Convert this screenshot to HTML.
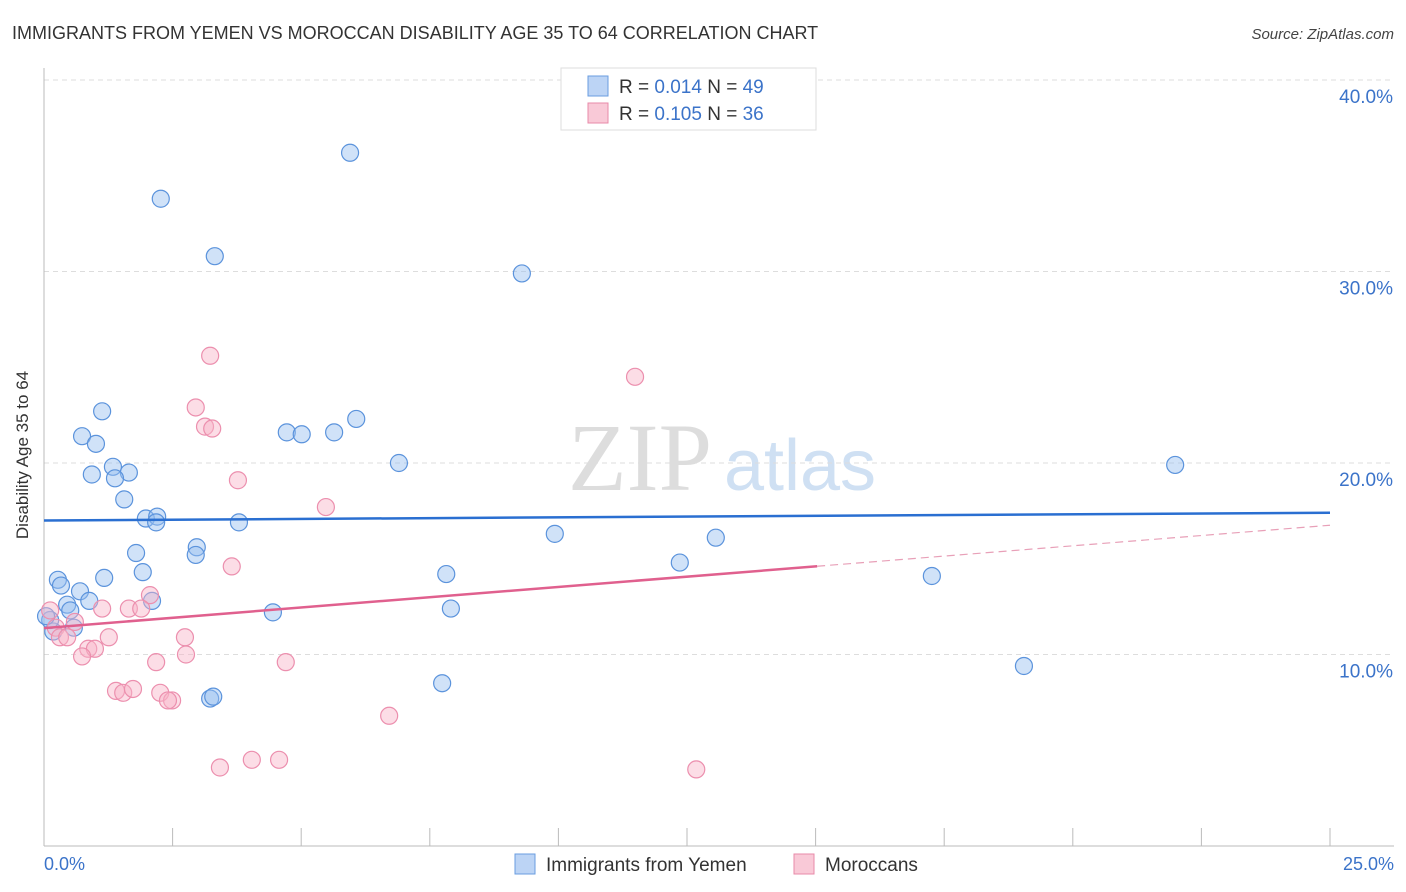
<!DOCTYPE html>
<html><head><meta charset="utf-8"><style>
body{margin:0;background:#fff;font-family:"Liberation Sans",sans-serif;}
</style></head><body>
<svg width="1406" height="892" xmlns="http://www.w3.org/2000/svg" style="display:block">
<text x="12" y="39" font-size="18" fill="#333">IMMIGRANTS FROM YEMEN VS MOROCCAN DISABILITY AGE 35 TO 64 CORRELATION CHART</text>
<text x="1394" y="39" font-size="15" fill="#444" font-style="italic" text-anchor="end">Source: ZipAtlas.com</text>
<text x="640" y="490" font-size="96" fill="#ddd" font-family="Liberation Serif,serif" text-anchor="middle">ZIP</text>
<text x="800" y="490" font-size="72" fill="#cfe0f3" text-anchor="middle">atlas</text>
<g id="grid"></g>
<line x1="44" y1="68" x2="44" y2="846" stroke="#bbb"/>
<line x1="44" y1="846" x2="1394" y2="846" stroke="#bbb"/>
<g id="xticks"></g>
<text x="28" y="455" font-size="17" fill="#333" text-anchor="middle" transform="rotate(-90 28 455)">Disability Age 35 to 64</text>
<text x="44" y="870" font-size="18" fill="#3b73c9">0.0%</text>
<text x="1394" y="870" font-size="18" fill="#3b73c9" text-anchor="end">25.0%</text>
<g id="pts"></g>
<g id="lines"></g>
<g>
<rect x="561" y="68" width="255" height="62" fill="#fff" stroke="#ddd"/>
<rect x="588" y="76" width="20" height="20" fill="#bcd4f5" stroke="#6a9de0"/>
<text x="619" y="93" font-size="19" fill="#333">R = <tspan fill="#3b73c9">0.014</tspan>   N = <tspan fill="#3b73c9">49</tspan></text>
<rect x="588" y="103" width="20" height="20" fill="#f9c9d7" stroke="#e88aa8"/>
<text x="619" y="120" font-size="19" fill="#333">R = <tspan fill="#3b73c9">0.105</tspan>   N = <tspan fill="#3b73c9">36</tspan></text>
</g>
<g>
<rect x="515" y="854" width="20" height="20" fill="#bcd4f5" stroke="#6a9de0"/>
<text x="546" y="871" font-size="19" fill="#333">Immigrants from Yemen</text>
<rect x="794" y="854" width="20" height="20" fill="#f9c9d7" stroke="#e88aa8"/>
<text x="825" y="871" font-size="19" fill="#333">Moroccans</text>
</g>
</svg>
<script>
const yTicks=[10,20,30,40];
const yemenX=[2.27,5.95,3.32,9.29,1.13,0.74,1.01,4.72,5.01,5.64,6.07,0.93,1.34,1.65,1.38,6.90,21.99,1.56,1.98,2.20,2.18,3.79,9.93,13.06,1.79,2.97,2.95,12.36,1.92,1.17,7.82,17.26,0.27,0.33,0.70,0.88,0.45,2.10,0.51,7.91,4.45,0.58,0.18,0.12,19.05,7.74,3.23,3.29,0.04];
const yemenY=[33.8,36.2,30.8,29.9,22.7,21.4,21.0,21.6,21.5,21.6,22.3,19.4,19.8,19.5,19.2,20.0,19.9,18.1,17.1,17.2,16.9,16.9,16.3,16.1,15.3,15.6,15.2,14.8,14.3,14.0,14.2,14.1,13.9,13.6,13.3,12.8,12.6,12.8,12.3,12.4,12.2,11.4,11.2,11.8,9.4,8.5,7.7,7.8,12.0];
const morX=[3.23,11.49,2.95,3.13,3.27,3.77,5.48,3.65,2.06,1.65,1.89,1.13,0.60,0.12,0.23,0.31,0.45,2.74,1.26,0.86,0.99,2.76,0.74,2.18,4.70,1.40,1.54,1.73,2.26,2.49,2.41,6.71,3.42,4.04,4.57,12.68];
const morY=[25.6,24.5,22.9,21.9,21.8,19.1,17.7,14.6,13.1,12.4,12.4,12.4,11.7,12.3,11.4,10.9,10.9,10.9,10.9,10.3,10.3,10.0,9.9,9.6,9.6,8.1,8.0,8.2,8.0,7.6,7.6,6.8,4.1,4.5,4.5,4.0];
const yemenFit=[17.0,17.4];
const morFit=[11.38,16.75];
const morSolidEnd=15.03;
const X=v=>44+v*51.44, Y=v=>846-v*19.15;
const NS="http://www.w3.org/2000/svg";
function mk(t,a,p){const e=document.createElementNS(NS,t);for(const k in a)e.setAttribute(k,a[k]);p.appendChild(e);return e;}
const grid=document.getElementById('grid');
yTicks.forEach(t=>{
 const l=mk('line',{x1:44,x2:1394,y1:Y(t),y2:Y(t),stroke:'#ddd','stroke-dasharray':'5,4'},grid);
 
 
 const tx=mk('text',{x:1393,y:Y(t)+23,'font-size':19,fill:'#3b73c9','text-anchor':'end'},grid);
 tx.textContent=t.toFixed(1)+'%';
 
 
});
const xt=document.getElementById('xticks');
for(let i=1;i<=10;i++){
 const l=mk('line',{x1:X(i*2.5),x2:X(i*2.5),y1:828,y2:846,stroke:'#bbb'},xt);
 
 
}
const pts=document.getElementById('pts');
yemenX.forEach((x,i)=>{
 const c=mk('circle',{cx:X(x),cy:Y(yemenY[i]),r:8.5,fill:'rgba(150,190,240,0.45)',stroke:'#5b93dc','stroke-width':1.2},pts);
 
 
});
morX.forEach((x,i)=>{
 const c=mk('circle',{cx:X(x),cy:Y(morY[i]),r:8.5,fill:'rgba(248,180,200,0.45)',stroke:'#ec8fae','stroke-width':1.2},pts);
 
 
});
const ln=document.getElementById('lines');
const b=mk('line',{x1:X(0),y1:Y(yemenFit[0]),x2:X(25),y2:Y(yemenFit[1]),stroke:'#2a6fd1','stroke-width':2.5},ln);


const my=x=>morFit[0]+(morFit[1]-morFit[0])*x/25;
const p=mk('line',{x1:X(0),y1:Y(my(0)),x2:X(morSolidEnd),y2:Y(my(morSolidEnd)),stroke:'#e0608e','stroke-width':2.5},ln);


const pd=mk('line',{x1:X(morSolidEnd),y1:Y(my(morSolidEnd)),x2:X(25),y2:Y(my(25)),stroke:'#e8a0b8','stroke-width':1.2,'stroke-dasharray':'8,5'},ln);


</script>
</body></html>
